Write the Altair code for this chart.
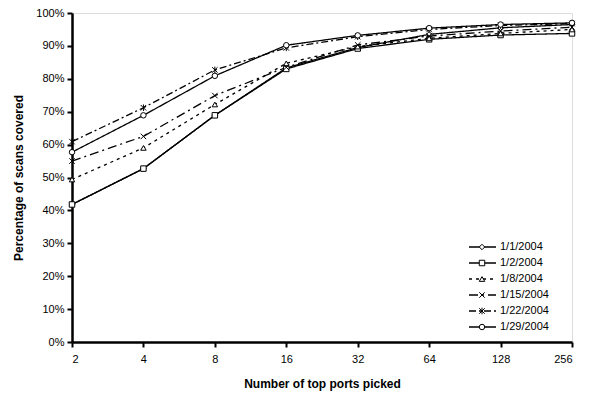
import altair as alt
import pandas as pd

ports = [2, 4, 8, 16, 32, 64, 128, 256]
series = ["1/1/2004", "1/2/2004", "1/8/2004", "1/15/2004", "1/22/2004", "1/29/2004"]
v_0101 = [41.8, 52.7, 68.9, 83.3, 89.5, 93.5, 95.5, 96.5]
v_0102 = [41.8, 52.7, 68.9, 83.0, 89.2, 92.0, 93.3, 93.8]
v_0108 = [49.4, 59.0, 72.2, 84.7, 89.8, 92.3, 93.8, 95.0]
v_0115 = [55.0, 62.5, 74.9, 83.5, 90.3, 93.0, 94.5, 95.7]
v_0122 = [60.9, 71.2, 82.7, 89.4, 92.8, 95.0, 96.2, 96.8]
v_0129 = [57.7, 68.9, 80.9, 90.2, 93.2, 95.4, 96.5, 97.0]
values = [v_0101, v_0102, v_0108, v_0115, v_0122, v_0129]

dashes = [[1, 0], [1, 0], [3, 4], [9, 4, 2, 4], [7, 3, 2, 3], [1, 0]]
xshape = "M-1,-1L1,1M-1,1L1,-1"
star = "M-1,-1L1,1M-1,1L1,-1M0,-1.2L0,1.2"
shapes = ["diamond", "square", "triangle-up", xshape, star, "circle"]

rows = []
for s, vals in zip(series, values):
    for p, v in zip(ports, vals):
        rows.append({"series": s, "ports": p, "pct": v})
df = pd.DataFrame(rows)
leg = pd.DataFrame({"series": series})

FONT = "Liberation Sans"
dash_scale = alt.Scale(domain=series, range=dashes)
shape_scale = alt.Scale(domain=series, range=shapes)

x = alt.X("ports:Q",
          scale=alt.Scale(type="log", base=2, domain=[2, 256], nice=False),
          axis=alt.Axis(values=ports, format="d", title="Number of top ports picked",
                        grid=False, tickSize=5, tickWidth=2, domainWidth=2.5,
                        domainColor="black", tickColor="black",
                        labelFont=FONT, labelFontSize=11, labelColor="black",
                        labelPadding=6,
                        titleFont=FONT, titleFontSize=12, titleFontWeight="bold",
                        titleColor="black", titlePadding=14))
y = alt.Y("pct:Q",
          scale=alt.Scale(domain=[0, 100], nice=False),
          axis=alt.Axis(values=list(range(0, 101, 10)), labelExpr="datum.value + '%'",
                        title="Percentage of scans covered", grid=False,
                        tickSize=5, tickWidth=2, domainWidth=2.5,
                        domainColor="black", tickColor="black",
                        labelFont=FONT, labelFontSize=11, labelColor="black",
                        labelPadding=3,
                        titleFont=FONT, titleFontSize=12, titleFontWeight="bold",
                        titleColor="black", titlePadding=10))

lines = alt.Chart(df).mark_line(color="black", strokeWidth=1.3).encode(
    x=x, y=y,
    strokeDash=alt.StrokeDash("series:N", scale=dash_scale, legend=None),
    detail="series:N",
)
points = alt.Chart(df).mark_point(color="black", fill="white", filled=False,
                                  strokeWidth=1, size=30, opacity=1).encode(
    x=x, y=y,
    shape=alt.Shape("series:N", scale=shape_scale, legend=None),
)
data_layer = alt.layer(lines, points)

ly = alt.Y("series:N", sort=series, axis=None,
           scale=alt.Scale(type="point", domain=series, range=[234, 314], padding=0))
leg_lines = alt.Chart(leg).mark_rule(color="black", strokeWidth=1.3).encode(
    x=alt.value(397), x2=alt.value(424), y=ly,
    strokeDash=alt.StrokeDash("series:N", scale=dash_scale, legend=None),
)
leg_pts = alt.Chart(leg).mark_point(color="black", fill="white", filled=False,
                                    strokeWidth=1, size=30, opacity=1).encode(
    x=alt.value(410), y=ly,
    shape=alt.Shape("series:N", scale=shape_scale, legend=None),
)
leg_text = alt.Chart(leg).mark_text(align="left", baseline="middle", font=FONT,
                                    fontSize=11, color="black").encode(
    x=alt.value(428), y=ly, text="series:N",
)
legend_layer = alt.layer(leg_lines, leg_pts, leg_text)

chart = alt.layer(data_layer, legend_layer).resolve_scale(
    y="independent"
).properties(
    width=500, height=329,
    padding={"left": 64, "top": 5, "right": 9, "bottom": 50},
    autosize=alt.AutoSizeParams(type="none"),
).configure_view(stroke="black", strokeWidth=2).configure(background="white")

chart.save("out.html", embed_options={"renderer": "svg", "actions": False})
